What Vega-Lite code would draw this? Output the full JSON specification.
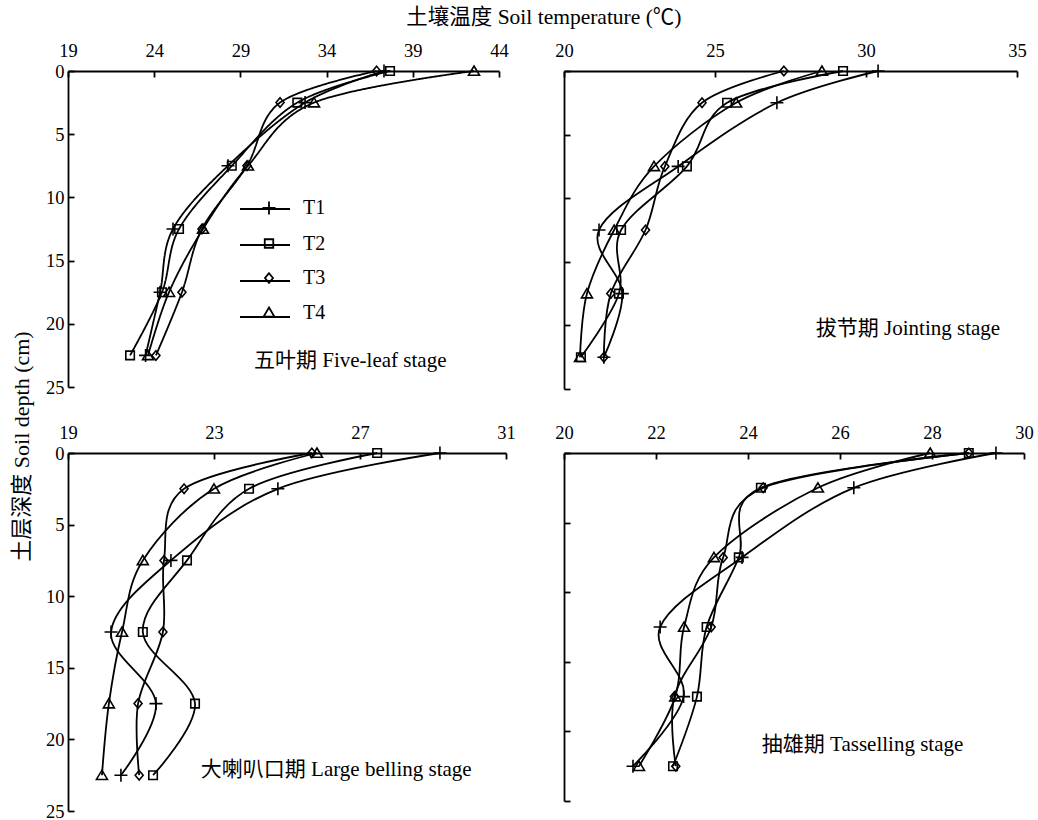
{
  "$schema": "https://vega.github.io/schema/vega-lite/v6.json",
  "background": "white",
  "padding": {"left": 10, "top": 6, "right": 2, "bottom": 0},
  "title": {"text": "土壤温度 Soil temperature (℃)", "font": "Liberation Serif, Noto Sans CJK SC", "fontSize": 21.5, "fontWeight": "normal", "color": "#000", "anchor": "middle", "dx": 22, "offset": 13},
  "config": {
    "view": {"stroke": null},
    "font": "Liberation Serif, Noto Sans CJK SC",
    "axis": {"domainColor": "#000", "domainWidth": 1.8, "tickColor": "#000", "tickWidth": 1.8, "tickSize": -6, "labelFontSize": 18.5, "labelColor": "#000", "labelFont": "Liberation Serif", "grid": false, "titleFont": "Liberation Serif, Noto Sans CJK SC", "titleFontSize": 22, "titleFontWeight": "normal", "titleColor": "#000", "labelFlush": false, "labelOverlap": false},
    "axisTop": {"labelPadding": 17},
    "axisLeft": {"labelPadding": 10}
  },
  "datasets": {
    "profiles": [
      {"stage": "A", "trt": "T1", "depth": 0, "temp": 37.33},
      {"stage": "A", "trt": "T1", "depth": 2.5, "temp": 32.75},
      {"stage": "A", "trt": "T1", "depth": 7.5, "temp": 28.28},
      {"stage": "A", "trt": "T1", "depth": 12.5, "temp": 25.09},
      {"stage": "A", "trt": "T1", "depth": 17.5, "temp": 24.34},
      {"stage": "A", "trt": "T1", "depth": 22.5, "temp": 23.5},
      {"stage": "A", "trt": "T2", "depth": 0, "temp": 37.68},
      {"stage": "A", "trt": "T2", "depth": 2.5, "temp": 32.3},
      {"stage": "A", "trt": "T2", "depth": 7.5, "temp": 28.5},
      {"stage": "A", "trt": "T2", "depth": 12.5, "temp": 25.44},
      {"stage": "A", "trt": "T2", "depth": 17.5, "temp": 24.45},
      {"stage": "A", "trt": "T2", "depth": 22.5, "temp": 22.6},
      {"stage": "A", "trt": "T3", "depth": 0, "temp": 36.9},
      {"stage": "A", "trt": "T3", "depth": 2.5, "temp": 31.3},
      {"stage": "A", "trt": "T3", "depth": 7.5, "temp": 29.38},
      {"stage": "A", "trt": "T3", "depth": 12.5, "temp": 26.77},
      {"stage": "A", "trt": "T3", "depth": 17.5, "temp": 25.61},
      {"stage": "A", "trt": "T3", "depth": 22.5, "temp": 24.1},
      {"stage": "A", "trt": "T4", "depth": 0, "temp": 42.55},
      {"stage": "A", "trt": "T4", "depth": 2.5, "temp": 33.27},
      {"stage": "A", "trt": "T4", "depth": 7.5, "temp": 29.44},
      {"stage": "A", "trt": "T4", "depth": 12.5, "temp": 26.83},
      {"stage": "A", "trt": "T4", "depth": 17.5, "temp": 24.86},
      {"stage": "A", "trt": "T4", "depth": 22.5, "temp": 23.64},
      {"stage": "B", "trt": "T1", "depth": 0, "temp": 30.4},
      {"stage": "B", "trt": "T1", "depth": 2.5, "temp": 27.05},
      {"stage": "B", "trt": "T1", "depth": 7.5, "temp": 23.78},
      {"stage": "B", "trt": "T1", "depth": 12.5, "temp": 21.16},
      {"stage": "B", "trt": "T1", "depth": 17.5, "temp": 21.93},
      {"stage": "B", "trt": "T1", "depth": 22.5, "temp": 21.32},
      {"stage": "B", "trt": "T2", "depth": 0, "temp": 29.24},
      {"stage": "B", "trt": "T2", "depth": 2.5, "temp": 25.4},
      {"stage": "B", "trt": "T2", "depth": 7.5, "temp": 24.07},
      {"stage": "B", "trt": "T2", "depth": 12.5, "temp": 21.89},
      {"stage": "B", "trt": "T2", "depth": 17.5, "temp": 21.82},
      {"stage": "B", "trt": "T2", "depth": 22.5, "temp": 20.56},
      {"stage": "B", "trt": "T3", "depth": 0, "temp": 27.28},
      {"stage": "B", "trt": "T3", "depth": 2.5, "temp": 24.57},
      {"stage": "B", "trt": "T3", "depth": 7.5, "temp": 23.34},
      {"stage": "B", "trt": "T3", "depth": 12.5, "temp": 22.7},
      {"stage": "B", "trt": "T3", "depth": 17.5, "temp": 21.55},
      {"stage": "B", "trt": "T3", "depth": 22.5, "temp": 21.32},
      {"stage": "B", "trt": "T4", "depth": 0, "temp": 28.54},
      {"stage": "B", "trt": "T4", "depth": 2.5, "temp": 25.7},
      {"stage": "B", "trt": "T4", "depth": 7.5, "temp": 22.98},
      {"stage": "B", "trt": "T4", "depth": 12.5, "temp": 21.66},
      {"stage": "B", "trt": "T4", "depth": 17.5, "temp": 20.76},
      {"stage": "B", "trt": "T4", "depth": 22.5, "temp": 20.53},
      {"stage": "C", "trt": "T1", "depth": 0, "temp": 29.19},
      {"stage": "C", "trt": "T1", "depth": 2.5, "temp": 24.75},
      {"stage": "C", "trt": "T1", "depth": 7.5, "temp": 21.82},
      {"stage": "C", "trt": "T1", "depth": 12.5, "temp": 20.18},
      {"stage": "C", "trt": "T1", "depth": 17.5, "temp": 21.41},
      {"stage": "C", "trt": "T1", "depth": 22.5, "temp": 20.45},
      {"stage": "C", "trt": "T2", "depth": 0, "temp": 27.47},
      {"stage": "C", "trt": "T2", "depth": 2.5, "temp": 23.96},
      {"stage": "C", "trt": "T2", "depth": 7.5, "temp": 22.26},
      {"stage": "C", "trt": "T2", "depth": 12.5, "temp": 21.05},
      {"stage": "C", "trt": "T2", "depth": 17.5, "temp": 22.48},
      {"stage": "C", "trt": "T2", "depth": 22.5, "temp": 21.33},
      {"stage": "C", "trt": "T3", "depth": 0, "temp": 25.68},
      {"stage": "C", "trt": "T3", "depth": 2.5, "temp": 22.18},
      {"stage": "C", "trt": "T3", "depth": 7.5, "temp": 21.63},
      {"stage": "C", "trt": "T3", "depth": 12.5, "temp": 21.6},
      {"stage": "C", "trt": "T3", "depth": 17.5, "temp": 20.92},
      {"stage": "C", "trt": "T3", "depth": 22.5, "temp": 20.95},
      {"stage": "C", "trt": "T4", "depth": 0, "temp": 25.82},
      {"stage": "C", "trt": "T4", "depth": 2.5, "temp": 23.0},
      {"stage": "C", "trt": "T4", "depth": 7.5, "temp": 21.05},
      {"stage": "C", "trt": "T4", "depth": 12.5, "temp": 20.48},
      {"stage": "C", "trt": "T4", "depth": 17.5, "temp": 20.12},
      {"stage": "C", "trt": "T4", "depth": 22.5, "temp": 19.93},
      {"stage": "D", "trt": "T1", "depth": 0, "temp": 29.39},
      {"stage": "D", "trt": "T1", "depth": 2.5, "temp": 26.3},
      {"stage": "D", "trt": "T1", "depth": 7.5, "temp": 23.87},
      {"stage": "D", "trt": "T1", "depth": 12.5, "temp": 22.09},
      {"stage": "D", "trt": "T1", "depth": 17.5, "temp": 22.6},
      {"stage": "D", "trt": "T1", "depth": 22.5, "temp": 21.5},
      {"stage": "D", "trt": "T2", "depth": 0, "temp": 28.8},
      {"stage": "D", "trt": "T2", "depth": 2.5, "temp": 24.28},
      {"stage": "D", "trt": "T2", "depth": 7.5, "temp": 23.8},
      {"stage": "D", "trt": "T2", "depth": 12.5, "temp": 23.1},
      {"stage": "D", "trt": "T2", "depth": 17.5, "temp": 22.89},
      {"stage": "D", "trt": "T2", "depth": 22.5, "temp": 22.37},
      {"stage": "D", "trt": "T3", "depth": 0, "temp": 28.8},
      {"stage": "D", "trt": "T3", "depth": 2.5, "temp": 24.33},
      {"stage": "D", "trt": "T3", "depth": 7.5, "temp": 23.46},
      {"stage": "D", "trt": "T3", "depth": 12.5, "temp": 23.2},
      {"stage": "D", "trt": "T3", "depth": 17.5, "temp": 22.4},
      {"stage": "D", "trt": "T3", "depth": 22.5, "temp": 22.43},
      {"stage": "D", "trt": "T4", "depth": 0, "temp": 27.96},
      {"stage": "D", "trt": "T4", "depth": 2.5, "temp": 25.52},
      {"stage": "D", "trt": "T4", "depth": 7.5, "temp": 23.26},
      {"stage": "D", "trt": "T4", "depth": 12.5, "temp": 22.61},
      {"stage": "D", "trt": "T4", "depth": 17.5, "temp": 22.42},
      {"stage": "D", "trt": "T4", "depth": 22.5, "temp": 21.63}
    ],
    "notes": [
      {"stage": "A", "label": "五叶期 Five-leaf stage", "temp": 29.79, "depth": 22.95},
      {"stage": "B", "label": "拔节期 Jointing stage", "temp": 28.34, "depth": 20.26},
      {"stage": "C", "label": "大喇叭口期 Large belling stage", "temp": 22.64, "depth": 22.15},
      {"stage": "D", "label": "抽雄期 Tasselling stage", "temp": 24.3, "depth": 20.98}
    ]
  },
  "resolve": {"legend": {"shape": "independent", "strokeDash": "independent"}},
  "columns": 2,
  "align": "each",
  "bounds": "flush",
  "spacing": {"row": 64, "column": 58},
  "concat": [
    {
      "width": 431, "height": 316,
      "layer": [
        {
          "data": {"name": "profiles"},
          "transform": [{"filter": "datum.stage === 'A'"}],
          "mark": {"type": "line", "interpolate": "cardinal", "color": "#000", "strokeWidth": 1.8},
          "encoding": {
            "x": {"field": "temp", "type": "quantitative", "scale": {"domain": [19, 44], "nice": false, "zero": false}, "axis": {"orient": "top", "values": [19, 24, 29, 34, 39, 44], "title": null}},
            "y": {"field": "depth", "type": "quantitative", "scale": {"domain": [0, 25], "reverse": true, "nice": false}, "axis": {"values": [0, 5, 10, 15, 20, 25], "title": "土层深度 Soil depth (cm)", "titleY": 375, "titlePadding": 12}},
            "strokeDash": {"field": "trt", "type": "nominal", "scale": {"domain": ["T1", "T2", "T3", "T4", "T5"], "range": [[1, 0], [1, 0], [1, 0], [1, 0], [1, 0]]},
              "legend": {"values": ["T1", "T2", "T3", "T4"], "orient": "none", "legendX": 171, "legendY": 112, "title": null, "padding": 0, "symbolType": "stroke", "symbolSize": 2500, "symbolStrokeColor": "#000", "symbolStrokeWidth": 1.8, "labelFontSize": 20, "labelFont": "Liberation Serif", "labelOpacity": 0, "labelOffset": 4, "rowPadding": -1.3}},
            "detail": {"field": "trt"},
            "order": {"field": "depth", "type": "quantitative"}
          }
        },
        {
          "data": {"name": "profiles"},
          "transform": [{"filter": "datum.stage === 'A'"}],
          "mark": {"type": "point", "filled": false, "size": 100, "strokeWidth": 1.6, "color": "#000", "opacity": 1},
          "encoding": {
            "x": {"field": "temp", "type": "quantitative"},
            "y": {"field": "depth", "type": "quantitative"},
            "shape": {"field": "trt", "type": "nominal", "scale": {"domain": ["T1", "T2", "T3", "T4"], "range": ["M-1.3,0L1.3,0M0,-1.3L0,1.3", "M-0.85,-0.85L0.85,-0.85L0.85,0.85L-0.85,0.85Z", "M0,-0.95L0.8,0L0,0.95L-0.8,0Z", "M0,-1L1.1,0.85L-1.1,0.85Z"]},
              "legend": {"orient": "none", "legendX": 191, "legendY": 127, "title": null, "padding": 0, "symbolSize": 100, "symbolStrokeColor": "#000", "symbolStrokeWidth": 1.8, "symbolFillColor": "white", "labelFontSize": 20, "labelFont": "Liberation Serif", "labelColor": "#000", "labelOffset": 24, "rowPadding": 14.5}
            }
          }
        },
        {
          "data": {"name": "notes"},
          "transform": [{"filter": "datum.stage === 'A'"}],
          "mark": {"type": "text", "align": "left", "baseline": "middle", "fontSize": 21, "color": "#000", "font": "Liberation Serif, Noto Sans CJK SC"},
          "encoding": {
            "x": {"field": "temp", "type": "quantitative"},
            "y": {"field": "depth", "type": "quantitative"},
            "text": {"field": "label"}
          }
        }
      ]
    },
    {
      "width": 453, "height": 318,
      "layer": [
        {
          "data": {"name": "profiles"},
          "transform": [{"filter": "datum.stage === 'B'"}],
          "mark": {"type": "line", "interpolate": "cardinal", "color": "#000", "strokeWidth": 1.8},
          "encoding": {
            "x": {"field": "temp", "type": "quantitative", "scale": {"domain": [20, 35], "nice": false, "zero": false}, "axis": {"orient": "top", "values": [20, 25, 30, 35], "title": null}},
            "y": {"field": "depth", "type": "quantitative", "scale": {"domain": [0, 25], "reverse": true, "nice": false}, "axis": {"values": [0, 5, 10, 15, 20, 25], "title": null, "labels": false}},
            "detail": {"field": "trt"},
            "order": {"field": "depth", "type": "quantitative"}
          }
        },
        {
          "data": {"name": "profiles"},
          "transform": [{"filter": "datum.stage === 'B'"}],
          "mark": {"type": "point", "filled": false, "size": 100, "strokeWidth": 1.6, "color": "#000", "opacity": 1},
          "encoding": {
            "x": {"field": "temp", "type": "quantitative"},
            "y": {"field": "depth", "type": "quantitative"},
            "shape": {"field": "trt", "type": "nominal", "legend": null}
          }
        },
        {
          "data": {"name": "notes"},
          "transform": [{"filter": "datum.stage === 'B'"}],
          "mark": {"type": "text", "align": "left", "baseline": "middle", "fontSize": 21, "color": "#000", "font": "Liberation Serif, Noto Sans CJK SC"},
          "encoding": {
            "x": {"field": "temp", "type": "quantitative"},
            "y": {"field": "depth", "type": "quantitative"},
            "text": {"field": "label"}
          }
        }
      ]
    },
    {
      "width": 438, "height": 358,
      "layer": [
        {
          "data": {"name": "profiles"},
          "transform": [{"filter": "datum.stage === 'C'"}],
          "mark": {"type": "line", "interpolate": "cardinal", "color": "#000", "strokeWidth": 1.8},
          "encoding": {
            "x": {"field": "temp", "type": "quantitative", "scale": {"domain": [19, 31], "nice": false, "zero": false}, "axis": {"orient": "top", "values": [19, 23, 27, 31], "title": null}},
            "y": {"field": "depth", "type": "quantitative", "scale": {"domain": [0, 25], "reverse": true, "nice": false}, "axis": {"values": [0, 5, 10, 15, 20, 25], "title": null}},
            "detail": {"field": "trt"},
            "order": {"field": "depth", "type": "quantitative"}
          }
        },
        {
          "data": {"name": "profiles"},
          "transform": [{"filter": "datum.stage === 'C'"}],
          "mark": {"type": "point", "filled": false, "size": 100, "strokeWidth": 1.6, "color": "#000", "opacity": 1},
          "encoding": {
            "x": {"field": "temp", "type": "quantitative"},
            "y": {"field": "depth", "type": "quantitative"},
            "shape": {"field": "trt", "type": "nominal", "legend": null}
          }
        },
        {
          "data": {"name": "notes"},
          "transform": [{"filter": "datum.stage === 'C'"}],
          "mark": {"type": "text", "align": "left", "baseline": "middle", "fontSize": 21, "color": "#000", "font": "Liberation Serif, Noto Sans CJK SC"},
          "encoding": {
            "x": {"field": "temp", "type": "quantitative"},
            "y": {"field": "depth", "type": "quantitative"},
            "text": {"field": "label"}
          }
        }
      ]
    },
    {
      "width": 460, "height": 348,
      "layer": [
        {
          "data": {"name": "profiles"},
          "transform": [{"filter": "datum.stage === 'D'"}],
          "mark": {"type": "line", "interpolate": "cardinal", "color": "#000", "strokeWidth": 1.8},
          "encoding": {
            "x": {"field": "temp", "type": "quantitative", "scale": {"domain": [20, 30], "nice": false, "zero": false}, "axis": {"orient": "top", "values": [20, 22, 24, 26, 28, 30], "title": null}},
            "y": {"field": "depth", "type": "quantitative", "scale": {"domain": [0, 25], "reverse": true, "nice": false}, "axis": {"values": [0, 5, 10, 15, 20, 25], "title": null, "labels": false}},
            "detail": {"field": "trt"},
            "order": {"field": "depth", "type": "quantitative"}
          }
        },
        {
          "data": {"name": "profiles"},
          "transform": [{"filter": "datum.stage === 'D'"}],
          "mark": {"type": "point", "filled": false, "size": 100, "strokeWidth": 1.6, "color": "#000", "opacity": 1},
          "encoding": {
            "x": {"field": "temp", "type": "quantitative"},
            "y": {"field": "depth", "type": "quantitative"},
            "shape": {"field": "trt", "type": "nominal", "legend": null}
          }
        },
        {
          "data": {"name": "notes"},
          "transform": [{"filter": "datum.stage === 'D'"}],
          "mark": {"type": "text", "align": "left", "baseline": "middle", "fontSize": 21, "color": "#000", "font": "Liberation Serif, Noto Sans CJK SC"},
          "encoding": {
            "x": {"field": "temp", "type": "quantitative"},
            "y": {"field": "depth", "type": "quantitative"},
            "text": {"field": "label"}
          }
        }
      ]
    }
  ]
}
